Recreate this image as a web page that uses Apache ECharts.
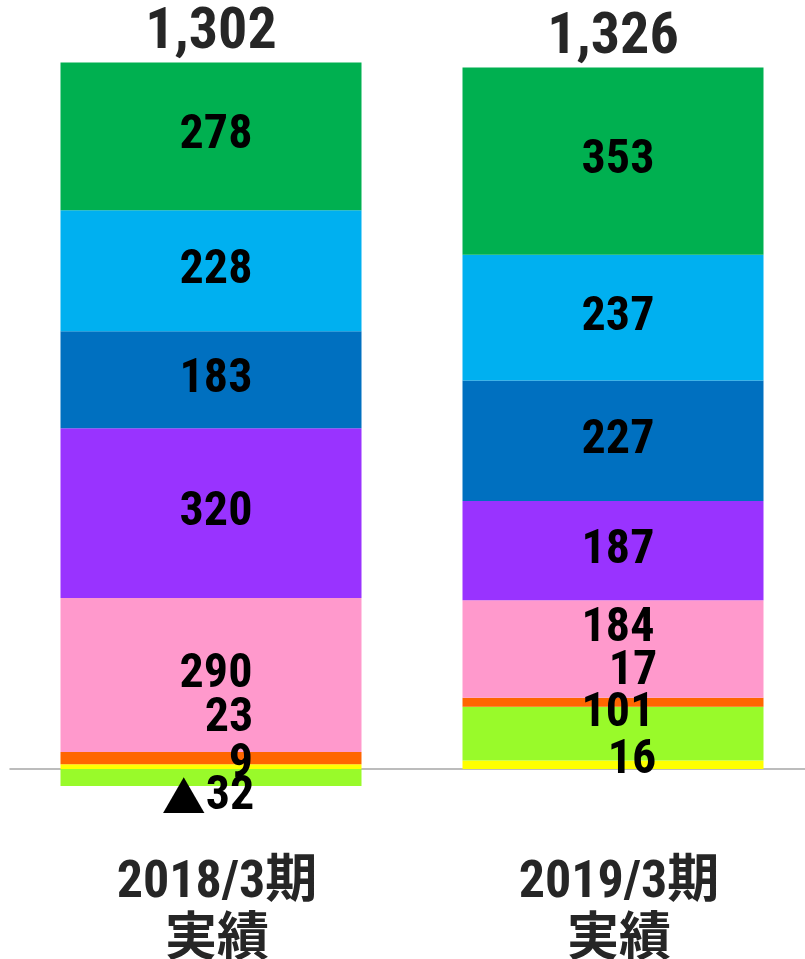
<!DOCTYPE html>
<html>
<head>
<meta charset="utf-8">
<script src="https://cdn.jsdelivr.net/npm/echarts@6/dist/echarts.min.js"></script>
<style>
    html, body { margin: 0; padding: 0; background: #fff; }
    #chart { width: 805px; height: 959px; }
</style>
</head>
<body>
<div id="chart"></div>
<script>
    // 期ごとのデータ
    const categories = ['2018/3期\n実績', '2019/3期\n実績'];
    const totals = [1302, 1326];

    // 下から順に積み上げ
    const yellow = [9, 16];
    const yellowGreen = [-32, 101];
    const orange = [23, 17];
    const pink = [290, 184];
    const purple = [320, 187];
    const blue = [183, 227];
    const lightBlue = [228, 237];
    const green = [278, 353];

    const numFont = '"Roboto Condensed", "Noto Sans CJK JP", sans-serif';
    const cjkFont = '"Noto Sans CJK JP", sans-serif';

    const stacks = [
        { name: 'yellow', data: yellow, color: '#FFFF00', offsets: [[30, -2], [19, -4]] },
        { name: 'yellowGreen', data: yellowGreen, color: '#99FA2A', offsets: [[-3, 20], [5, -20]] },
        { name: 'orange', data: orange, color: '#FF6600', offsets: [[18, -39], [20, -30]] },
        { name: 'pink', data: pink, color: '#FF99CC', offsets: [[5, 0], [5, -20]] },
        { name: 'purple', data: purple, color: '#9933FF', offsets: [[5, 0], [5, 0]] },
        { name: 'blue', data: blue, color: '#0070C0', offsets: [[5, 0], [5, 0]] },
        { name: 'lightBlue', data: lightBlue, color: '#00B0F0', offsets: [[5, 0], [5, 0]] },
        { name: 'green', data: green, color: '#00B050', offsets: [[5, 0], [5, 0]] }
    ];

    // 合計ラベル用（プラス側の高さ）
    let positiveSum = categories.map((c, i) => {
        let s = 0;
        stacks.forEach(st => { if (st.data[i] > 0) s += st.data[i]; });
        return s;
    });

    let series = stacks.map(st => ({
        name: st.name,
        type: 'bar',
        stack: 'all',
        barWidth: 301,
        barGap: '-100%',
        itemStyle: { color: st.color },
        label: {
            show: true,
            position: 'inside',
            color: '#000',
            fontFamily: numFont,
            fontWeight: 'bold',
            fontSize: 48,
            formatter: p => p.value < 0 ? '{tri|▲}' + (-p.value) : String(p.value),
            rich: {
                tri: { fontFamily: cjkFont, fontSize: 44, color: '#000' }
            }
        },
        data: st.data.map((v, i) => ({ value: v, label: { offset: st.offsets[i] } }))
    }));

    series.push({
        name: 'total',
        type: 'bar',
        barWidth: 301,
        barGap: '-100%',
        z: 1,
        silent: true,
        itemStyle: { color: 'rgba(0,0,0,0)' },
        label: {
            show: true,
            position: 'top',
            distance: 0,
            color: '#262626',
            fontFamily: numFont,
            fontWeight: 'bold',
            fontSize: 58,
            formatter: p => totals[p.dataIndex].toLocaleString('en-US')
        },
        data: positiveSum
    });

    let chart = echarts.init(document.getElementById('chart'));
    chart.setOption({
        animation: false,
        grid: { left: 10, right: -9, top: 26, bottom: 137, outerBoundsMode: 'none', containLabel: false },
        xAxis: {
            type: 'category',
            data: categories,
            axisTick: { show: false },
            axisLine: { lineStyle: { color: '#a6a6a6', width: 1.5 } },
            axisLabel: {
                margin: 33,
                color: '#262626',
                fontFamily: numFont,
                fontWeight: 'bold',
                fontSize: 52,
                lineHeight: 58,
                padding: [0, 0, 0, 12]
            }
        },
        yAxis: {
            type: 'value',
            min: -100,
            max: 1400,
            show: false
        },
        series: series
    });
</script>
</body>
</html>
